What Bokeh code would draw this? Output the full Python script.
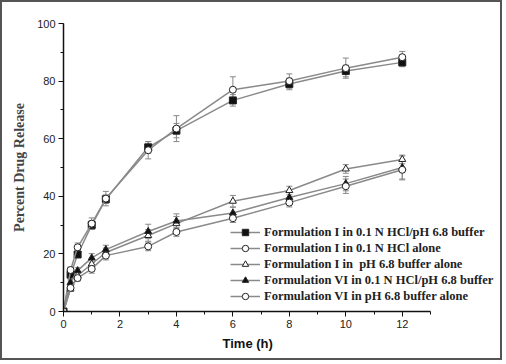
from bokeh.plotting import figure
from bokeh.models import ColumnDataSource, Whisker, TeeHead, Range1d, FixedTicker, Title
from bokeh.embed import file_html
from bokeh.resources import INLINE

time_h = [0, 0.25, 0.5, 1, 1.5, 3, 4, 6, 8, 10, 12]

labels = [
    "Formulation I in 0.1 N HCl/pH 6.8 buffer",
    "Formulation I in 0.1 N HCl alone",
    "Formulation I in  pH 6.8 buffer alone",
    "Formulation VI in 0.1 N HCl/pH 6.8 buffer",
    "Formulation VI in pH 6.8 buffer alone",
]

s1 = [0, 12.8, 19.8, 30.0, 39.0, 57.0, 62.8, 73.3, 79.0, 83.5, 86.5]
s2 = [0, 14.4, 22.3, 30.5, 39.2, 56.0, 63.5, 77.0, 80.0, 84.5, 88.3]
s3 = [0, 7.8, 12.5, 16.5, 20.5, 26.4, 30.5, 38.3, 42.0, 49.5, 52.8]
s4 = [0, 10.0, 14.2, 18.6, 21.5, 27.8, 31.4, 34.2, 39.6, 44.4, 50.0]
s5 = [0, 8.2, 11.6, 14.8, 19.4, 22.6, 27.6, 32.4, 37.8, 43.5, 49.2]

e1 = [0, 0.8, 1.0, 1.5, 1.5, 2.0, 2.5, 2.0, 2.0, 2.0, 1.5]
e2 = [0, 1.0, 1.5, 2.0, 2.5, 3.0, 4.5, 4.5, 2.5, 3.5, 2.0]
e3 = [0, 0.8, 1.0, 1.5, 1.5, 2.0, 2.5, 2.0, 1.5, 1.5, 1.5]
e4 = [0, 1.0, 1.0, 1.5, 1.5, 2.5, 2.5, 2.0, 2.0, 2.5, 4.0]
e5 = [0, 0.8, 1.0, 1.5, 1.5, 1.5, 1.5, 1.5, 1.5, 2.5, 3.5]

markers = ["square", "circle", "triangle", "triangle", "circle"]
fills = ["#111111", "white", "white", "#111111", "white"]

X_AXIS_END = 13

# frame spans to the right edge so the legend is not clipped; axis line limited by bounds
p = figure(width=502, height=360, output_backend="svg", toolbar_location=None,
           x_range=Range1d(0, 15.48), y_range=Range1d(0, 100),
           min_border_left=61, min_border_right=4, min_border_top=21, min_border_bottom=51)
p.styles = {"border": "2px solid #555555"}
p.outline_line_color = None
p.grid.visible = False
p.background_fill_color = "white"
p.border_fill_color = "white"

p.xaxis.ticker = FixedTicker(ticks=[0, 2, 4, 6, 8, 10, 12], minor_ticks=list(range(0, 14)))
p.yaxis.ticker = FixedTicker(ticks=[0, 20, 40, 60, 80, 100], minor_ticks=list(range(0, 101, 10)))
p.xaxis.bounds = (0, X_AXIS_END)
for ax in (p.xaxis[0], p.yaxis[0]):
    ax.axis_line_color = "#111111"
    ax.axis_line_width = 1.5
    ax.major_tick_line_color = "#111111"
    ax.minor_tick_line_color = "#111111"
    ax.major_tick_out = 5
    ax.major_tick_in = 0
    ax.minor_tick_out = 3
    ax.minor_tick_in = 0
    ax.major_label_text_font = "Liberation Sans"
    ax.major_label_text_font_size = "11px"
    ax.major_label_text_color = "#222222"
    ax.major_label_standoff = 3

# x-axis label centred under the bounded axis (0..13), as a below-panel title
xlab = Title(text="Time (h)", align="left", offset=159, standoff=6,
             text_font="Liberation Sans", text_font_style="bold",
             text_font_size="13px", text_color="#111111")
p.add_layout(xlab, "below")

p.yaxis.axis_label = "Percent Drug Release"
p.yaxis.axis_label_text_font = "Liberation Serif"
p.yaxis.axis_label_text_font_style = "bold"
p.yaxis.axis_label_text_font_size = "14px"
p.yaxis.axis_label_standoff = 7

series = [s1, s2, s3, s4, s5]
errs = [e1, e2, e3, e4, e5]
for y, e, m, f, lab in zip(series, errs, markers, fills, labels):
    src = ColumnDataSource(dict(x=time_h, y=y,
                                lo=[a - b for a, b in zip(y, e)],
                                hi=[a + b for a, b in zip(y, e)]))
    w = Whisker(source=src, base="x", upper="hi", lower="lo",
                line_color="#888888", line_width=1,
                upper_head=TeeHead(size=6, line_color="#888888"),
                lower_head=TeeHead(size=6, line_color="#888888"))
    p.add_layout(w)
    p.line("x", "y", source=src, line_color="#8a8a8a", line_width=1.5, legend_label=lab)
    p.scatter("x", "y", source=src, marker=m, size=7, fill_color=f,
              line_color="#222222", line_width=1, legend_label=lab)

lg = p.legend[0]
lg.location = (167, 7)
lg.border_line_color = None
lg.background_fill_alpha = 0
lg.padding = 0
lg.margin = 0
lg.spacing = 0
lg.glyph_width = 30
lg.glyph_height = 16
lg.label_height = 16
lg.label_standoff = 4
lg.label_text_font = "Liberation Serif"
lg.label_text_font_style = "bold"
lg.label_text_font_size = "12.5px"
lg.label_text_color = "#222222"

open("out.html", "w").write(file_html(p, INLINE))
